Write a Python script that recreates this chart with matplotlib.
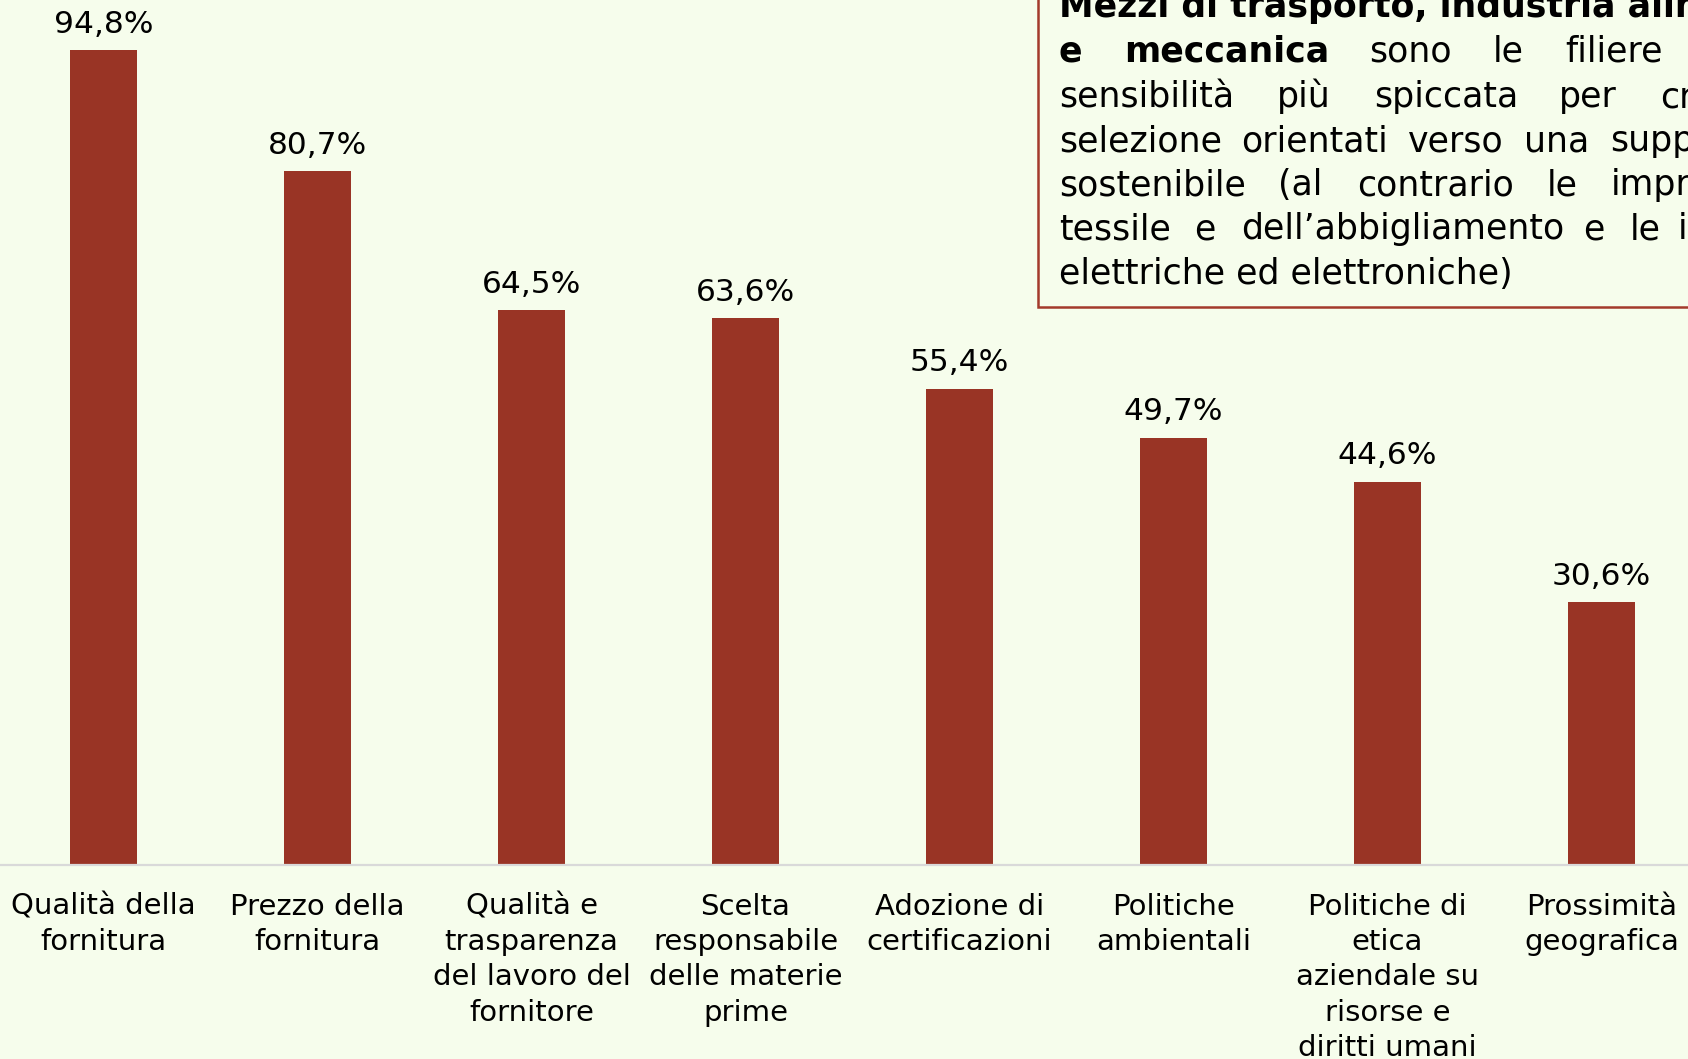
import numpy as np
import matplotlib.pyplot as plt
from matplotlib.patches import Rectangle

plt.rcParams['font.family'] = ['DejaVu Sans']

categorie = ['Qualità della\nfornitura', 'Prezzo della\nfornitura',
             'Qualità e\ntrasparenza\ndel lavoro del\nfornitore',
             'Scelta\nresponsabile\ndelle materie\nprime',
             'Adozione di\ncertificazioni', 'Politiche\nambientali',
             'Politiche di\netica\naziendale su\nrisorse e\ndiritti umani',
             'Prossimità\ngeografica']
valori = [94.8, 80.7, 64.5, 63.6, 55.4, 49.7, 44.6, 30.6]

# righe del riquadro di testo (giustificate), parola per parola
righe_box = [
    [('Mezzi di trasporto, industria alim', 'bold')],
    [('e', 'bold'), ('meccanica', 'bold'), ('sono', 'normal'), ('le', 'normal'), ('filiere', 'normal')],
    [('sensibilità', 'normal'), ('più', 'normal'), ('spiccata', 'normal'), ('per', 'normal'), ('cr', 'normal')],
    [('selezione', 'normal'), ('orientati', 'normal'), ('verso', 'normal'), ('una', 'normal'), ('supp', 'normal')],
    [('sostenibile', 'normal'), ('(al', 'normal'), ('contrario', 'normal'), ('le', 'normal'), ('impr', 'normal')],
    [('tessile', 'normal'), ('e', 'normal'), ('dell’abbigliamento', 'normal'), ('e', 'normal'), ('le', 'normal'), ('i', 'normal')],
    [('elettriche ed elettroniche)', 'normal')],
]
x_parole = [
    [1059],
    [1059, 1124, 1369, 1493, 1565],
    [1059, 1277, 1374, 1559, 1660],
    [1059, 1241, 1408, 1524, 1610],
    [1059, 1278, 1357, 1547, 1611],
    [1059, 1194, 1241, 1583, 1630, 1678],
    [1059],
]
y_righe = [17, 62, 107, 151, 195, 239, 284]

sfondo = '#F6FDEC'
rosso = '#993425'
W, H = 1688, 1059

fig = plt.figure(figsize=(W / 100, H / 100), dpi=100, facecolor=sfondo)
ax = fig.add_axes([0, (H - 865) / H, 1, 865 / H])
ax.set_facecolor(sfondo)

x = np.arange(len(valori))
bars = ax.bar(x, valori, width=0.313, color=rosso, zorder=2)
ax.set_xlim(-103.5 / 214, (W - 103.5) / 214)
ax.set_ylim(0, 865 / 8.597)

for b, v in zip(bars, valori):
    ax.annotate(f'{v:.1f}%'.replace('.', ','), (b.get_x() + b.get_width() / 2, v),
                xytext=(0, 12.5), textcoords='offset points',
                ha='center', va='baseline', fontsize=22.5, color='black')

ax.set_xticks(x)
ax.set_xticklabels(categorie, fontsize=21, linespacing=1.33)
ax.tick_params(axis='x', length=0, pad=20)
ax.set_yticks([])
for s in ['top', 'left', 'right']:
    ax.spines[s].set_visible(False)
ax.spines['bottom'].set_color('#d9d9d9')
ax.spines['bottom'].set_linewidth(1.6)

# riquadro di commento
box = Rectangle((1038 / W, 1 - 307 / H), 1.0, 1.0, transform=fig.transFigure,
                facecolor=sfondo, edgecolor='#a33a2b', linewidth=1.8, zorder=5)
fig.patches.append(box)
for riga, xs, y in zip(righe_box, x_parole, y_righe):
    for (parola, peso), xp in zip(riga, xs):
        fig.text(xp / W, 1 - y / H, parola, fontsize=25, fontweight=peso,
                 ha='left', va='baseline', color='black', zorder=6)

fig.savefig('out.png', dpi=100, facecolor=sfondo)
